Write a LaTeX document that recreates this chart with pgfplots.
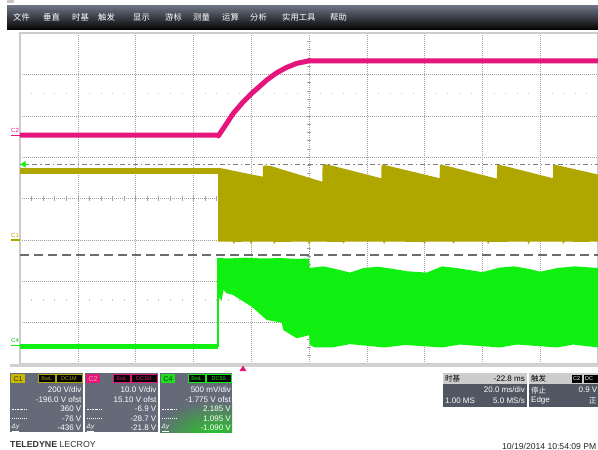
\documentclass[border=0pt]{standalone}
\usepackage{pgfplots}
\pgfplotsset{compat=1.18}
\usepackage{fontspec}
\setmainfont{Liberation Sans}
\newfontfamily\cjk{Noto Sans CJK SC}
\definecolor{ctwo}{RGB}{230,20,125}
\definecolor{cone}{RGB}{176,166,0}
\definecolor{cfour}{RGB}{16,240,16}
\definecolor{panelbg}{RGB}{100,106,120}
\definecolor{paneldark}{RGB}{80,86,98}
\definecolor{hdrgray}{RGB}{205,205,205}
\definecolor{gridgray}{RGB}{160,160,160}
\definecolor{badgeone}{RGB}{200,184,0}
\definecolor{badgetwo}{RGB}{225,25,120}
\definecolor{badgefour}{RGB}{30,220,30}
\newcommand{\mi}[2]{\node[anchor=base west,inner sep=0,text=white,font=\cjk\fontsize{8.3}{9}\selectfont] at (#1,20) {#2};}
\newcommand{\pv}[3]{\node[anchor=east,inner sep=0,text=white,font=\fontsize{8}{9}\selectfont] at (#1,#2) {#3};}
\begin{document}
\begin{tikzpicture}
\path[use as bounding box] (0pt,0pt) rectangle (598pt,-450pt);
\clip (0pt,0pt) rectangle (598pt,-450pt);
\fill[white] (0pt,0pt) rectangle (598pt,-450pt);
\begin{scope}[x=1pt,y=-1pt]
  \fill[gray!45] (7,0) rectangle (14,3);
  \shade[top color={rgb,255:red,112;green,118;blue,134}, middle color={rgb,255:red,46;green,48;blue,54}, bottom color={rgb,255:red,6;green,6;blue,6}] (7,5) rectangle (598,29);
  \mi{13}{文件}\mi{43}{垂直}\mi{72}{时基}\mi{98}{触发}\mi{133}{显示}\mi{165}{游标}
  \mi{193}{测量}\mi{222}{运算}\mi{250}{分析}\mi{282}{实用工具}\mi{330}{帮助}
  % center axis ticks
  \foreach \i in {0,...,50} \draw[gridgray, line width=0.5pt] ({20+11.56*\i},196.3) -- ++(0,4.4);
  \foreach \i in {0,...,40} \draw[gridgray, line width=0.5pt] (306.8,{33+8.275*\i}) -- ++(4.4,0);
  \foreach \i in {0,...,50} \draw[gray!40, line width=0.5pt] ({20+11.56*\i},92.6) -- ++(0,1.6);
  \foreach \i in {0,...,50} \draw[gray!40, line width=0.5pt] ({20+11.56*\i},299.4) -- ++(0,1.6);
\end{scope}
\begin{axis}[at={(20pt,-364pt)}, anchor=south west, scale only axis,
  width=578pt, height=331pt, xmin=0, xmax=10, ymin=-4, ymax=4,
  xtick={0,...,10}, ytick={-4,...,4},
  xticklabels={,,,,,,,,,,}, yticklabels={,,,,,,,,},
  major tick length=0pt, grid=major,
  major grid style={gridgray, line width=0.5pt, dash pattern=on 1pt off 1pt},
  axis line style={draw=gray!40, line width=1.2pt}, clip=true]
% C1 flat part
\addplot[cone, line width=5.5pt] coordinates {(0,0.66) (3.43,0.66)};
% C1 band after step
\addplot[fill=cone, draw=none] coordinates {
 (3.426,-1.04) (3.426,0.737) (3.45,0.74) (3.8,0.64) (4.2,0.527)
 (4.205,0.785) (4.25,0.80) (4.35,0.78) (5.23,0.406)
 (5.235,0.83) (5.28,0.83) (5.38,0.80) (6.25,0.49)
 (6.255,0.81) (6.30,0.81) (6.40,0.78) (7.26,0.49)
 (7.265,0.81) (7.31,0.81) (7.41,0.78) (8.25,0.48)
 (8.255,0.81) (8.30,0.81) (8.40,0.78) (9.22,0.49)
 (9.225,0.81) (9.27,0.81) (9.37,0.78) (10,0.58) (10,-1.04)
 (9.7,-1.05) (9.42,-1.04) (9.4,-1.10) (9.38,-1.04) (8.82,-1.04) (8.8,-1.11) (8.78,-1.04)
 (8.12,-1.05) (8.1,-1.10) (8.08,-1.04) (7.52,-1.04) (7.5,-1.09) (7.48,-1.04)
 (7.02,-1.04) (7.0,-1.11) (6.98,-1.05) (6.32,-1.04) (6.3,-1.10) (6.28,-1.04)
 (5.62,-1.04) (5.6,-1.09) (5.58,-1.05) (5.02,-1.04) (5.0,-1.12) (4.98,-1.04)
 (4.42,-1.05) (4.4,-1.10) (4.38,-1.04) (4.02,-1.04) (4.0,-1.11) (3.98,-1.04)
 (3.72,-1.05) (3.7,-1.10) (3.68,-1.04) (3.426,-1.04)};
% C2 trace
\addplot[ctwo, line width=5pt, line join=round] coordinates {
 (0,1.534) (3.426,1.534) (3.431,1.51) (3.576,1.816) (3.690,2.058) (3.863,2.338)
 (4.009,2.541) (4.152,2.717) (4.268,2.862) (4.441,3.039) (4.614,3.169)
 (4.787,3.266) (5.005,3.329) (10,3.329)};
% C4 flat part
\addplot[cfour, line width=5pt] coordinates {(0,-3.58) (3.426,-3.58)};
\addplot[cfour, line width=1.2pt] coordinates {(3.426,-3.58) (3.426,-1.44)};
% C4 band
\addplot[fill=cfour, draw=none] coordinates {
 (3.426,-1.437) (3.6,-1.45) (3.9,-1.43) (4.2,-1.45) (4.5,-1.44) (4.8,-1.46) (5.0,-1.45)
 (5.01,-1.68) (5.25,-1.64) (5.45,-1.70) (5.71,-1.79) (5.95,-1.68) (6.2,-1.65)
 (6.45,-1.70) (6.7,-1.76) (7.04,-1.79) (7.3,-1.64) (7.6,-1.69) (8.0,-1.78)
 (8.3,-1.67) (8.55,-1.64) (8.8,-1.70) (9.0,-1.77) (9.3,-1.68) (9.6,-1.64) (10,-1.68)
 (10,-3.60) (9.57,-3.53) (9.3,-3.60) (8.6,-3.53) (8.3,-3.60) (7.61,-3.53) (7.3,-3.60)
 (6.66,-3.54) (6.3,-3.60) (5.71,-3.52) (5.4,-3.60) (5.1,-3.60) (5.014,-3.539)
 (5.005,-3.297) (4.96,-3.321) (4.787,-3.377) (4.555,-3.18) (4.528,-3.00)
 (4.268,-2.935) (4.009,-2.614) (3.685,-2.331) (3.576,-2.290) (3.521,-2.21)
 (3.486,-2.476) (3.45,-2.40) (3.426,-2.40)};
% cursor lines
\addplot[gray, line width=1pt, dash pattern=on 5pt off 3pt on 1.5pt off 3pt] coordinates {(0,0.826) (10,0.826)};
\addplot[gray!85!black, line width=1.2pt, dash pattern=on 9pt off 5pt] coordinates {(0,-1.365) (10,-1.365)};
\end{axis}
\begin{scope}[x=1pt,y=-1pt]
  \fill[gray!35] (10,364) rectangle (598,367);
  % channel markers
  \node[anchor=west,inner sep=0,text=ctwo,font=\fontsize{6}{6}\selectfont] at (11,130) {C2};
  \draw[ctwo, line width=1.2pt] (10.5,135.3) -- (20,135.3);
  \node[anchor=west,inner sep=0,text=cone,font=\fontsize{6}{6}\selectfont] at (11,235) {C1};
  \draw[cone, line width=1.2pt] (10.5,240) -- (20,240);
  \node[anchor=west,inner sep=0,text=cfour!80!black,font=\fontsize{6}{6}\selectfont] at (11,340.5) {C4};
  \draw[cfour, line width=1.2pt] (10.5,345.5) -- (20,345.5);
  \fill[cfour] (20.5,164.3) -- (25.5,161) -- (25.5,167.6) -- cycle;
  \draw[cfour, line width=1pt] (24,164.3) -- (28,164.3);
  \fill[ctwo] (243,365.5) -- (239.5,371) -- (246.5,371) -- cycle;
  % ---- C1 panel
  \fill[panelbg] (10,373) rectangle (83,432);
  \fill[badgeone] (11,374) rectangle (25,383);
  \node[inner sep=0,text=black!70!badgeone,font=\fontsize{7}{7}\selectfont] at (18,378.6) {C1};
  \draw[cone, fill=black, line width=0.5pt] (38.5,374.5) rectangle (55,382.5);
  \node[inner sep=0,text=cone,font=\fontsize{5.5}{6}\selectfont] at (46.7,378.6) {BwL};
  \draw[cone, fill=black, line width=0.5pt] (56,374.5) rectangle (82,382.5);
  \node[inner sep=0,text=cone,font=\fontsize{5.5}{6}\selectfont] at (69,378.6) {DC1M};
  \pv{81.5}{390}{200 V/div}\pv{81.5}{399.5}{-196.0 V ofst}\pv{81.5}{409}{360 V}\pv{81.5}{418.5}{-76 V}\pv{81.5}{428}{-436 V}
  \draw[white, line width=0.6pt, dash pattern=on 2pt off 1pt on 0.6pt off 1pt] (12,409) -- (27,409);
  \draw[white, line width=0.6pt, dash pattern=on 0.8pt off 1.2pt] (12,418.5) -- (27,418.5);
  \node[anchor=west,inner sep=0,text=white,font=\fontsize{6.5}{7}\selectfont\itshape] at (11.5,427.5) {\underline{Δy}};
  % ---- C2 panel
  \fill[panelbg] (85,373) rectangle (158,432);
  \fill[badgetwo] (86,374) rectangle (100,383);
  \node[inner sep=0,text=ctwo!40!white,font=\fontsize{7}{7}\selectfont] at (93,378.6) {C2};
  \draw[ctwo, fill=black, line width=0.5pt] (113.5,374.5) rectangle (130,382.5);
  \node[inner sep=0,text=ctwo,font=\fontsize{5.5}{6}\selectfont] at (121.7,378.6) {BwL};
  \draw[ctwo, fill=black, line width=0.5pt] (131,374.5) rectangle (157,382.5);
  \node[inner sep=0,text=ctwo,font=\fontsize{5.5}{6}\selectfont] at (144,378.6) {DC1M};
  \pv{156.5}{390}{10.0 V/div}\pv{156.5}{399.5}{15.10 V ofst}\pv{156.5}{409}{-6.9 V}\pv{156.5}{418.5}{-28.7 V}\pv{156.5}{428}{-21.8 V}
  \draw[white, line width=0.6pt, dash pattern=on 2pt off 1pt on 0.6pt off 1pt] (87,409) -- (102,409);
  \draw[white, line width=0.6pt, dash pattern=on 0.8pt off 1.2pt] (87,418.5) -- (102,418.5);
  \node[anchor=west,inner sep=0,text=white,font=\fontsize{6.5}{7}\selectfont\itshape] at (86.5,427.5) {\underline{Δy}};
  % ---- C4 panel
  \begin{scope}
    \clip (160,373) rectangle (232,432);
    \fill[panelbg] (160,373) rectangle (232,432);
    \shade[inner color={rgb,255:red,30;green,210;blue,30}, outer color=panelbg] (214,440) ellipse (62 and 40);
  \end{scope}
  \fill[badgefour] (161,374) rectangle (175,383);
  \node[inner sep=0,text=black!70!badgefour,font=\fontsize{7}{7}\selectfont] at (168,378.6) {C4};
  \draw[cfour, fill=black, line width=0.5pt] (188.5,374.5) rectangle (205,382.5);
  \node[inner sep=0,text=cfour,font=\fontsize{5.5}{6}\selectfont] at (196.7,378.6) {BwL};
  \draw[cfour, fill=black, line width=0.5pt] (206,374.5) rectangle (231.5,382.5);
  \node[inner sep=0,text=cfour,font=\fontsize{5.5}{6}\selectfont] at (218.7,378.6) {DC50};
  \pv{231}{390}{500 mV/div}\pv{231}{399.5}{-1.775 V ofst}\pv{231}{409}{2.185 V}\pv{231}{418.5}{1.095 V}\pv{231}{428}{-1.090 V}
  \draw[white, line width=0.6pt, dash pattern=on 2pt off 1pt on 0.6pt off 1pt] (162,409) -- (177,409);
  \draw[white, line width=0.6pt, dash pattern=on 0.8pt off 1.2pt] (162,418.5) -- (177,418.5);
  \node[anchor=west,inner sep=0,text=white,font=\fontsize{6.5}{7}\selectfont\itshape] at (161.5,427.5) {\underline{Δy}};
  % ---- timebase panel
  \fill[hdrgray] (443,373) rectangle (527,384);
  \fill[paneldark] (443,384) rectangle (527,407);
  \node[anchor=base west,inner sep=0,font=\cjk\fontsize{7.5}{8}\selectfont] at (445,381.5) {时基};
  \node[anchor=east,inner sep=0,font=\fontsize{8}{9}\selectfont] at (525,378.5) {-22.8 ms};
  \pv{525}{390}{20.0 ms/div}\pv{525}{400.5}{5.0 MS/s}
  \node[anchor=west,inner sep=0,text=white,font=\fontsize{8}{9}\selectfont] at (445,400.5) {1.00 MS};
  % ---- trigger panel
  \fill[hdrgray] (528.5,373) rectangle (600,384);
  \fill[paneldark] (528.5,384) rectangle (600,407);
  \node[anchor=base west,inner sep=0,font=\cjk\fontsize{7.5}{8}\selectfont] at (531,381.5) {触发};
  \fill[black] (571.5,374.5) rectangle (582,382.5);
  \node[inner sep=0,text=white,font=\fontsize{5.5}{6}\selectfont] at (576.7,378.6) {C2};
  \fill[black] (583.5,374.5) rectangle (602,382.5);
  \node[anchor=west,inner sep=0,text=white,font=\fontsize{5.5}{6}\selectfont] at (585,378.6) {DC};
  \node[anchor=base west,inner sep=0,text=white,font=\cjk\fontsize{7.5}{8}\selectfont] at (531,393) {停止};
  \pv{597.5}{390}{0.9 V}
  \node[anchor=west,inner sep=0,text=white,font=\fontsize{8}{9}\selectfont] at (531,400.5) {Edge};
  \node[anchor=base west,inner sep=0,text=white,font=\cjk\fontsize{7.5}{8}\selectfont] at (589,403.5) {正};
  % ---- footer
  \node[anchor=west,inner sep=0,text=black!80,font=\fontsize{8.8}{9}\selectfont] at (10,444.5) {\textbf{TELEDYNE} LECROY};
  \node[anchor=east,inner sep=0,text=black!85,font=\fontsize{8.6}{9}\selectfont] at (596.5,446) {10/19/2014 10:54:09 PM};
\end{scope}
\end{tikzpicture}
\end{document}
